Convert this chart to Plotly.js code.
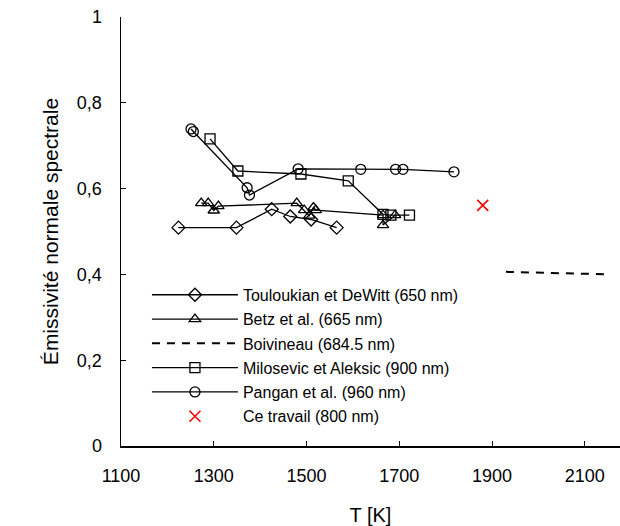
<!DOCTYPE html>
<html><head><meta charset="utf-8">
<script src="https://cdn.plot.ly/plotly-3.0.1.min.js"></script>
<style>body{margin:0;background:#fff}#plot{width:620px;height:526px}</style>
</head><body><div id="plot"></div>
<script>
const touloukianT = [1224, 1349, 1425, 1465, 1510, 1565];
const touloukianE = [0.509, 0.509, 0.552, 0.535, 0.528, 0.509];
const betzT = [1273, 1288, 1300, 1310, 1479, 1495, 1506, 1515, 1520, 1665, 1665, 1691];
const betzE = [0.566, 0.566, 0.549, 0.559, 0.566, 0.550, 0.537, 0.556, 0.550, 0.538, 0.515, 0.538];
const boivineauT = [1930, 2155];
const boivineauE = [0.406, 0.400];
const milosevicT = [1292, 1352, 1488, 1590, 1665, 1682, 1722];
const milosevicE = [0.716, 0.641, 0.634, 0.618, 0.540, 0.538, 0.538];
const panganT = [1251, 1256, 1372, 1377, 1482, 1617, 1692, 1708, 1818];
const panganE = [0.739, 0.733, 0.602, 0.585, 0.646, 0.645, 0.645, 0.645, 0.639];
const ceTravailT = [1880];
const ceTravailE = [0.561];
const seriesNames = ['Touloukian et DeWitt (650 nm)', 'Betz et al. (665 nm)', 'Boivineau (684.5 nm)',
  'Milosevic et Aleksic (900 nm)', 'Pangan et al. (960 nm)', 'Ce travail (800 nm)'];
const xTicks = [1100, 1300, 1500, 1700, 1900, 2100];
const yTicks = [0, 0.2, 0.4, 0.6, 0.8, 1];
const yTickText = ['0', '0,2', '0,4', '0,6', '0,8', '1'];

const mk = (sym) => ({symbol: sym, size: 10, color: '#000', line: {color: '#000', width: 1.3}});
const ln = {color: '#000', width: 1.3};
const traces = [
  {x: touloukianT, y: touloukianE, name: seriesNames[0], mode: 'lines+markers', line: ln, marker: mk('diamond-open'), legendgroup: 'a'},
  {x: betzT, y: betzE, name: seriesNames[1], mode: 'lines+markers', line: ln, marker: mk('triangle-up-open'), legendgroup: 'b'},
  {x: boivineauT, y: boivineauE, name: seriesNames[2], mode: 'lines', line: {color: '#000', width: 2, dash: '8px,7px'}, legendgroup: 'c'},
  {x: milosevicT, y: milosevicE, name: seriesNames[3], mode: 'lines+markers', line: ln, marker: mk('square-open'), legendgroup: 'd'},
  {x: panganT, y: panganE, name: seriesNames[4], mode: 'lines+markers', line: ln, marker: mk('circle-open'), legendgroup: 'e'},
  {x: ceTravailT, y: ceTravailE, name: seriesNames[5], mode: 'markers', marker: {symbol: 'x-thin-open', size: 11, color: '#ff0000', line: {color: '#ff0000', width: 1.6}}, legendgroup: 'f'}
];

const layout = {
  width: 620, height: 526,
  margin: {l: 121, r: 0, t: 17, b: 80},
  paper_bgcolor: '#fff', plot_bgcolor: '#fff',
  font: {family: 'Liberation Sans, Arial, sans-serif', color: '#000'},
  showlegend: true,
  legend: {x: 0.052, y: 0.392, xanchor: 'left', yanchor: 'top', bgcolor: 'rgba(0,0,0,0)',
    font: {size: 16, family: 'Liberation Sans, Arial, sans-serif'}, traceorder: 'grouped', tracegroupgap: 0.5,
    itemwidth: 86},
  xaxis: {range: [1100, 2176], tickvals: xTicks, ticktext: xTicks.map(String), ticks: 'inside', ticklen: 5,
    tickwidth: 1, tickcolor: '#000', showline: true, linecolor: '#000', linewidth: 1.5, showgrid: false, zeroline: false,
    tickfont: {size: 18}, ticklabelstandoff: 13,
    title: {text: 'T [K]', font: {size: 20}, standoff: 26}},
  yaxis: {range: [0, 1], tickvals: yTicks, ticktext: yTickText, ticks: 'inside', ticklen: 5,
    tickwidth: 1, tickcolor: '#000', showline: true, linecolor: '#000', linewidth: 1.5, showgrid: false, zeroline: false,
    tickfont: {size: 18}, ticklabelstandoff: 14,
    title: {text: 'Émissivité normale spectrale', font: {size: 21}, standoff: 12}}
};
Plotly.newPlot('plot', traces, layout, {displayModeBar: false, staticPlot: true});
</script></body></html>
